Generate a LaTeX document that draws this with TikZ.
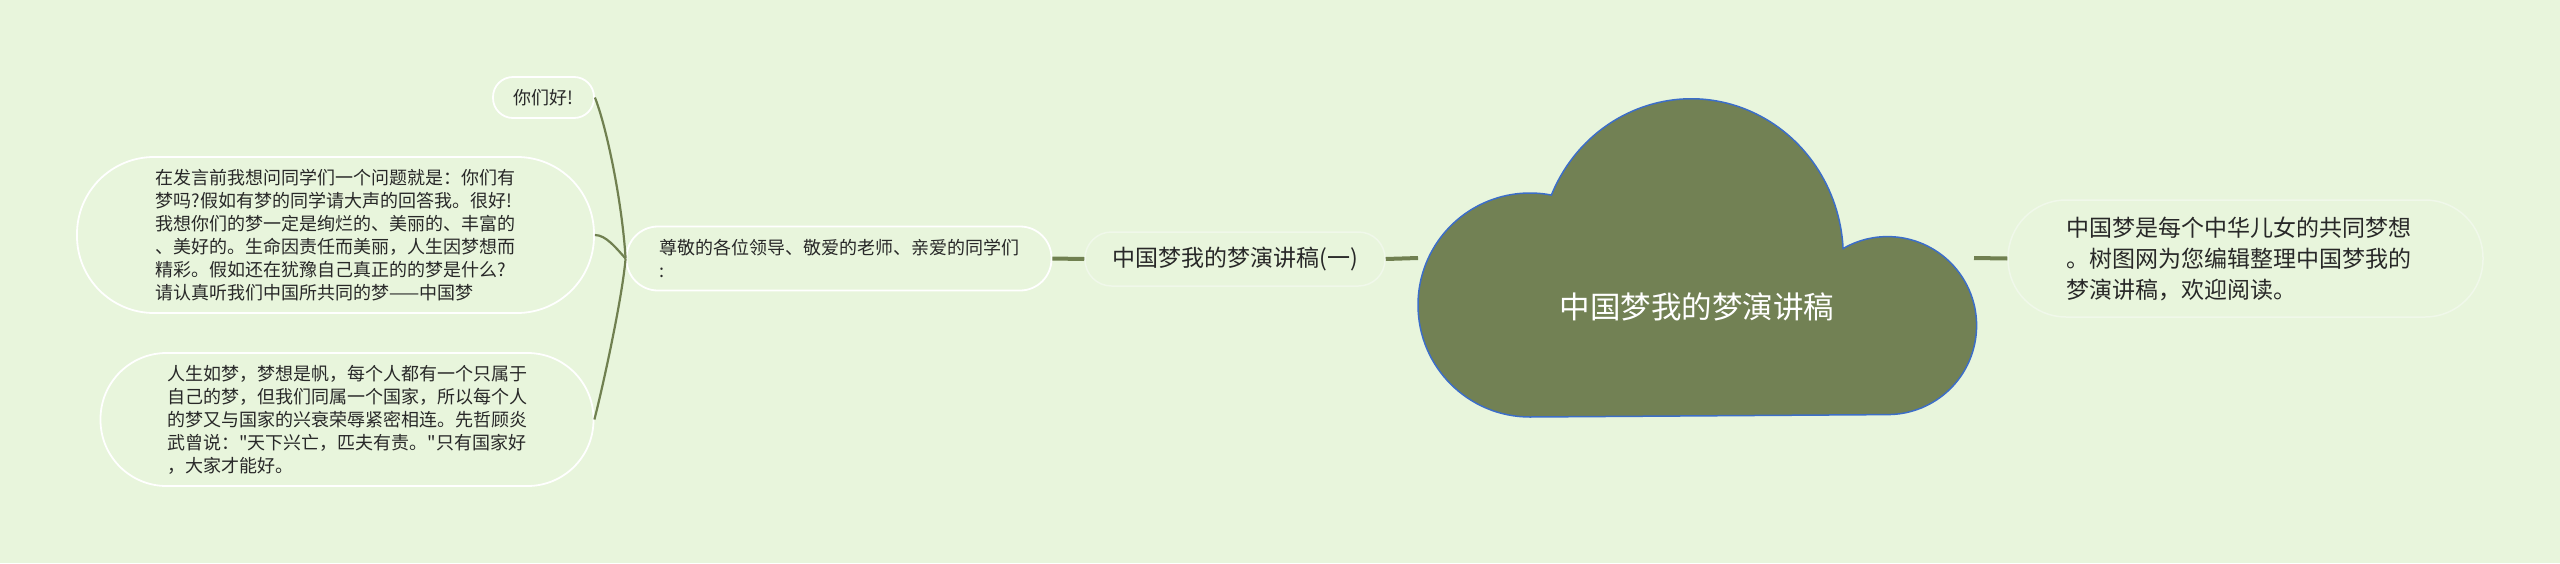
\documentclass[tikz,border=0pt]{standalone}
\usepackage{fontspec}
\setmainfont{Noto Sans CJK SC}[Ligatures=TeXOff]
\definecolor{bg}{RGB}{232,245,220}
\definecolor{olive}{RGB}{112,128,80}
\definecolor{cloudfill}{RGB}{114,129,84}
\definecolor{cloudline}{RGB}{60,110,200}
\definecolor{txt}{RGB}{40,40,40}
\definecolor{faint}{RGB}{240,248,234}
\begin{document}
\begin{tikzpicture}[x=1pt,y=-1pt,
  leaf/.style={draw=white, line width=1.8pt, fill=bg, inner sep=0pt, text=txt, align=left, font=\fontsize{18}{23}\selectfont},
  subbox/.style={draw=faint, line width=1.5pt, fill=bg, inner sep=0pt, text=txt, align=left, font=\fontsize{23}{31}\selectfont},
  branch/.style={draw=olive, line width=2.2pt},
  link/.style={draw=olive, line width=4pt}]
\fill[bg] (0,0) rectangle (2560,563);
\useasboundingbox (0,0) rectangle (2560,563);

% cloud
\draw[fill=cloudfill, draw=cloudline, line width=1.5pt]
  (1530,417) arc[start angle=90, end angle=281, radius=112]
  arc[start angle=203, end angle=357, x radius=152, y radius=158]
  arc[start angle=240, end angle=450, radius=89] -- cycle;
\node[font=\fontsize{30.5}{36}\selectfont, text=white] (root) at (1697,307) {中国梦我的梦演讲稿};
\coordinate (cl) at (1418,258);
\coordinate (cr) at (1974,258);

% nodes
\node[leaf, minimum width=101pt, minimum height=41pt, rounded corners=20pt] (hello) at (543.5,97.5) {你们好!};
\node[leaf, minimum width=517pt, minimum height=156pt, rounded corners=77pt] (q) at (335.5,235) {在发言前我想问同学们一个问题就是：你们有\\
梦吗?假如有梦的同学请大声的回答我。很好!\\
我想你们的梦一定是绚烂的、美丽的、丰富的\\
、美好的。生命因责任而美丽，人生因梦想而\\
精彩。假如还在犹豫自己真正的的梦是什么?\\
请认真听我们中国所共同的梦——中国梦};
\node[leaf, minimum width=493pt, minimum height=133pt, rounded corners=66pt] (life) at (347,419.5) {人生如梦，梦想是帆，每个人都有一个只属于\\
自己的梦，但我们同属一个国家，所以每个人\\
的梦又与国家的兴衰荣辱紧密相连。先哲顾炎\\
武曾说："天下兴亡，匹夫有责。"只有国家好\\
，大家才能好。};
\node[leaf, minimum width=425pt, minimum height=64pt, rounded corners=31.5pt] (greet) at (839,258.5) {尊敬的各位领导、敬爱的老师、亲爱的同学们\\
:};
\node[subbox, minimum width=300pt, minimum height=54pt, rounded corners=26.5pt] (sub) at (1235,259) {中国梦我的梦演讲稿(一)};
\node[subbox, minimum width=475pt, minimum height=117pt, rounded corners=58pt] (intro) at (2245.5,258.5) {中国梦是每个中华儿女的共同梦想\hspace*{14pt}\\
。树图网为您编辑整理中国梦我的\\
梦演讲稿，欢迎阅读。};

% connectors
\draw[branch] (hello.east) .. controls (606,125) and (622,200) .. (greet.west);
\draw[branch] (q.east) .. controls (606,235) and (616,248) .. (greet.west);
\draw[branch] (life.east) .. controls (602,390) and (622,300) .. (greet.west);
\draw[link] (greet.east) -- (sub.west);
\draw[link] (sub.east) -- (cl);
\draw[link] (cr) -- (intro.west);
\end{tikzpicture}
\end{document}
